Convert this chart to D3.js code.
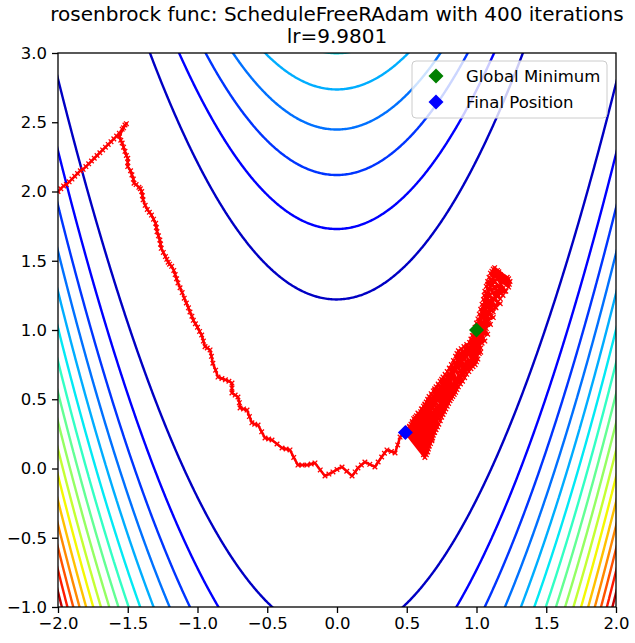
<!DOCTYPE html>
<html>
<head>
<meta charset="utf-8">
<script src="https://cdn.jsdelivr.net/npm/d3@7"></script>
<style>
  body { margin: 0; background: #fff; }
  text { font-family: "DejaVu Sans", sans-serif; fill: #000; }
</style>
</head>
<body>
<svg id="chart" width="635" height="643"></svg>
<script>
/// rosenbrock contour + optimizer path ///

const titleLines = ["rosenbrock func: ScheduleFreeRAdam with 400 iterations", "lr=9.9801"];
const levels = [150, 300, 450, 600, 750, 900, 1050, 1200, 1350, 1500, 1650, 1800, 1950, 2100, 2250, 2400];
const levelMax = 2550;
const xTicks = [-2.0, -1.5, -1.0, -0.5, 0.0, 0.5, 1.0, 1.5, 2.0];
const yTicks = [-1.0, -0.5, 0.0, 0.5, 1.0, 1.5, 2.0, 2.5, 3.0];

// path: first the climb from the start point
const climbPts = [
  [-2.00, 2.00], [-1.98, 2.02], [-1.96, 2.04], [-1.94, 2.05], [-1.92, 2.07], [-1.90, 2.09],
  [-1.88, 2.11], [-1.86, 2.13], [-1.84, 2.15], [-1.82, 2.16], [-1.80, 2.18], [-1.78, 2.20],
  [-1.76, 2.22], [-1.74, 2.24], [-1.72, 2.26], [-1.70, 2.28], [-1.68, 2.30], [-1.66, 2.32],
  [-1.64, 2.34], [-1.62, 2.36], [-1.60, 2.38], [-1.58, 2.40], [-1.56, 2.42], [-1.54, 2.45],
  [-1.52, 2.48], [-1.51, 2.49], [-1.53, 2.46]
];
// then down the valley
const valleyPts = [
  [-1.56, 2.40], [-1.55, 2.37], [-1.54, 2.35], [-1.53, 2.32], [-1.52, 2.29], [-1.51, 2.26],
  [-1.50, 2.24], [-1.50, 2.21], [-1.50, 2.18], [-1.48, 2.15], [-1.47, 2.12], [-1.46, 2.09],
  [-1.455, 2.06], [-1.44, 2.05], [-1.42, 2.03], [-1.41, 2.02], [-1.40, 2.00], [-1.395, 1.97],
  [-1.39, 1.94], [-1.375, 1.90], [-1.36, 1.87], [-1.345, 1.85], [-1.33, 1.83], [-1.315, 1.80],
  [-1.30, 1.77], [-1.295, 1.74], [-1.29, 1.71], [-1.28, 1.68], [-1.27, 1.65], [-1.265, 1.62],
  [-1.26, 1.59], [-1.245, 1.56], [-1.23, 1.53], [-1.22, 1.51], [-1.21, 1.49], [-1.20, 1.475],
  [-1.185, 1.46], [-1.17, 1.43], [-1.16, 1.40], [-1.15, 1.37], [-1.14, 1.34], [-1.125, 1.305],
  [-1.11, 1.27], [-1.095, 1.23], [-1.08, 1.195], [-1.065, 1.16], [-1.054, 1.13], [-1.04, 1.10],
  [-1.03, 1.07], [-1.015, 1.045], [-1.00, 1.02], [-0.985, 0.99], [-0.97, 0.964], [-0.958, 0.92],
  [-0.946, 0.88], [-0.93, 0.87], [-0.91, 0.856], [-0.90, 0.81], [-0.89, 0.76], [-0.87, 0.71],
  [-0.853, 0.66], [-0.825, 0.65], [-0.80, 0.64], [-0.775, 0.63], [-0.753, 0.617], [-0.753, 0.58],
  [-0.753, 0.545], [-0.73, 0.53], [-0.71, 0.516], [-0.70, 0.475], [-0.695, 0.437], [-0.67, 0.43],
  [-0.645, 0.422], [-0.628, 0.375], [-0.61, 0.33], [-0.59, 0.32], [-0.566, 0.314], [-0.54, 0.265],
  [-0.516, 0.22], [-0.49, 0.213], [-0.466, 0.206], [-0.43, 0.177], [-0.394, 0.148], [-0.365, 0.141],
  [-0.337, 0.134], [-0.31, 0.08], [-0.28, 0.025], [-0.25, 0.025], [-0.215, 0.025], [-0.185, 0.032],
  [-0.158, 0.04], [-0.12, -0.01], [-0.086, -0.054], [-0.058, -0.04], [-0.029, -0.025], [0.00, -0.007],
  [0.036, 0.011], [0.07, -0.02], [0.108, -0.054], [0.13, -0.025], [0.15, 0.004], [0.175, 0.025],
  [0.20, 0.047], [0.235, 0.03], [0.272, 0.011], [0.295, 0.047], [0.32, 0.083], [0.34, 0.11],
  [0.358, 0.134], [0.39, 0.123], [0.416, 0.112], [0.435, 0.17], [0.452, 0.227], [0.47, 0.245]
];
// then the oscillation across the valley near the minimum, up and down twice
const clusterPts = [
  [0.49, 0.26], [0.63, 0.08], [0.51, 0.29], [0.65, 0.12], [0.53, 0.32], [0.66, 0.16],
  [0.55, 0.36], [0.68, 0.20], [0.57, 0.38], [0.69, 0.24], [0.60, 0.41], [0.71, 0.28],
  [0.62, 0.45], [0.73, 0.32], [0.64, 0.48], [0.75, 0.37], [0.66, 0.52], [0.77, 0.41],
  [0.69, 0.56], [0.79, 0.45], [0.71, 0.59], [0.81, 0.49], [0.74, 0.63], [0.83, 0.52],
  [0.76, 0.66], [0.85, 0.55], [0.79, 0.70], [0.87, 0.59], [0.82, 0.75], [0.90, 0.63],
  [0.85, 0.81], [0.93, 0.68], [0.87, 0.85], [0.96, 0.72], [0.91, 0.88], [0.99, 0.75],
  [0.95, 0.91], [1.01, 0.79], [0.97, 0.96], [1.03, 0.87], [0.99, 1.02], [1.05, 0.94],
  [1.01, 1.08], [1.07, 1.01], [1.03, 1.15], [1.09, 1.07], [1.05, 1.22], [1.12, 1.13],
  [1.06, 1.28], [1.15, 1.20], [1.08, 1.35], [1.19, 1.25], [1.10, 1.41], [1.23, 1.31],
  [1.12, 1.44], [1.24, 1.35], [1.15, 1.43], [1.22, 1.38],
  [1.17, 1.40], [1.09, 1.30], [1.20, 1.28], [1.07, 1.20], [1.14, 1.16], [1.04, 1.10],
  [1.10, 1.04], [1.01, 1.00], [1.06, 0.92], [0.97, 0.92], [1.00, 0.80], [0.90, 0.84],
  [0.94, 0.72], [0.84, 0.76], [0.88, 0.64], [0.78, 0.67], [0.83, 0.56], [0.73, 0.60],
  [0.79, 0.48], [0.68, 0.53], [0.75, 0.40], [0.63, 0.46], [0.71, 0.31], [0.58, 0.40],
  [0.68, 0.21], [0.54, 0.33], [0.64, 0.12], [0.50, 0.28], [0.60, 0.15],
  [0.50, 0.275], [0.64, 0.10], [0.52, 0.305], [0.655, 0.14], [0.54, 0.34], [0.67, 0.18],
  [0.56, 0.37], [0.685, 0.22], [0.585, 0.395], [0.70, 0.26], [0.61, 0.43], [0.72, 0.30],
  [0.63, 0.465], [0.74, 0.345], [0.65, 0.50], [0.76, 0.39], [0.675, 0.54], [0.78, 0.43],
  [0.70, 0.575], [0.80, 0.47], [0.725, 0.61], [0.82, 0.505], [0.75, 0.645], [0.84, 0.535],
  [0.775, 0.68], [0.86, 0.57], [0.805, 0.725], [0.885, 0.61], [0.835, 0.78], [0.915, 0.655],
  [0.86, 0.83], [0.945, 0.70], [0.89, 0.865], [0.975, 0.735], [0.93, 0.895], [1.00, 0.77],
  [0.96, 0.935], [1.02, 0.83], [0.98, 0.99], [1.04, 0.905], [1.00, 1.05], [1.06, 0.975],
  [1.02, 1.115], [1.08, 1.04], [1.04, 1.185], [1.105, 1.10], [1.055, 1.25], [1.135, 1.165],
  [1.07, 1.315], [1.17, 1.225], [1.09, 1.38], [1.21, 1.28], [1.11, 1.425], [1.235, 1.33],
  [1.13, 1.45], [1.23, 1.37],
  [1.16, 1.42], [1.08, 1.33], [1.19, 1.30], [1.08, 1.25], [1.17, 1.19], [1.05, 1.15],
  [1.12, 1.09], [1.03, 1.05], [1.08, 0.97], [0.99, 0.96], [1.03, 0.84], [0.93, 0.88],
  [0.97, 0.76], [0.87, 0.80], [0.91, 0.68], [0.81, 0.72], [0.855, 0.60], [0.755, 0.635],
  [0.81, 0.52], [0.70, 0.565], [0.77, 0.44], [0.655, 0.49], [0.73, 0.36], [0.605, 0.43],
  [0.695, 0.26], [0.56, 0.35], [0.66, 0.165], [0.52, 0.30], [0.62, 0.10], [0.49, 0.26]
];
const globalMin = [1.0, 1.0];
const finalPos = [0.49, 0.26];
const legendLabels = ["Global Minimum", "Final Position"];
const legendColors = ["#008000", "#0000ff"];

const svg = d3.select("#chart");
const margin = {left: 58, right: 616, top: 53, bottom: 607};

const x = d3.scaleLinear().domain([-2, 2]).range([margin.left, margin.right]);
const y = d3.scaleLinear().domain([-1, 3]).range([margin.bottom, margin.top]);

// jet colormap, same segments as matplotlib
function jet(t) {
    const seg = (pts) => {
        for (let i = 1; i < pts.length; i++) {
            if (t <= pts[i][0]) {
                const a = pts[i - 1], b = pts[i];
                return a[1] + (b[1] - a[1]) * (t - a[0]) / (b[0] - a[0]);
            }
        }
        return pts[pts.length - 1][1];
    };
    const r = seg([[0, 0], [0.35, 0], [0.66, 1], [0.89, 1], [1, 0.5]]);
    const g = seg([[0, 0], [0.125, 0], [0.375, 1], [0.64, 1], [0.91, 0], [1, 0]]);
    const b = seg([[0, 0.5], [0.11, 1], [0.34, 1], [0.65, 0], [1, 0]]);
    return d3.rgb(r * 255, g * 255, b * 255).formatHex();
}

function rosen(a, b) {
    return (1 - a) * (1 - a) + 100 * (b - a * a) * (b - a * a);
}

// grid slightly bigger than the axes so the ring edges get clipped away
const step = 0.01, gx0 = -2.2, gy0 = -1.2;
const nx = 441, ny = 441;
const grid = new Array(nx * ny);
for (let j = 0; j < ny; j++) {
    for (let i = 0; i < nx; i++) {
        grid[i + j * nx] = rosen(gx0 + i * step, gy0 + j * step);
    }
}
const contours = d3.contours().size([nx, ny]).thresholds(levels)(grid);

const gridPath = d3.geoPath(d3.geoTransform({
    point: function(px, py) {
        this.stream.point(x(gx0 + (px - 0.5) * step), y(gy0 + (py - 0.5) * step));
    }
}));

svg.append("clipPath").attr("id", "plot-clip")
    .append("rect")
    .attr("x", margin.left).attr("y", margin.top)
    .attr("width", margin.right - margin.left).attr("height", margin.bottom - margin.top);

const plot = svg.append("g").attr("clip-path", "url(#plot-clip)");

plot.selectAll("path.contour")
    .data(contours)
    .join("path")
    .attr("class", "contour")
    .attr("d", gridPath)
    .attr("fill", "none")
    .attr("stroke", d => jet(d.value / levelMax))
    .attr("stroke-width", 2.4);

const allPts = climbPts.concat(valleyPts, clusterPts);
const line = d3.line().x(d => x(d[0])).y(d => y(d[1]));

plot.append("path")
    .attr("d", line(allPts))
    .attr("fill", "none")
    .attr("stroke", "#ff0000")
    .attr("stroke-width", 2.5)
    .attr("stroke-linejoin", "round");

const ms = 2.3;
plot.append("g").selectAll("path")
    .data(allPts)
    .join("path")
    .attr("d", d => {
        const cx = x(d[0]), cy = y(d[1]);
        return `M${cx - ms},${cy - ms}L${cx + ms},${cy + ms}M${cx - ms},${cy + ms}L${cx + ms},${cy - ms}`;
    })
    .attr("stroke", "#ff0000")
    .attr("stroke-width", 1.3);

function diamond(cx, cy, r) {
    return `M${cx},${cy - r}L${cx + r},${cy}L${cx},${cy + r}L${cx - r},${cy}Z`;
}

plot.append("path").attr("d", diamond(x(globalMin[0]), y(globalMin[1]), 7.5)).attr("fill", "#008000");
plot.append("path").attr("d", diamond(x(finalPos[0]), y(finalPos[1]), 7.5)).attr("fill", "#0000ff");

// axes
const xAxis = d3.axisBottom(x).tickValues(xTicks).tickFormat(d3.format(".1f")).tickSize(6).tickPadding(4);
const yAxis = d3.axisLeft(y).tickValues(yTicks).tickFormat(d3.format(".1f")).tickSize(6).tickPadding(5);

const gx = svg.append("g").attr("transform", `translate(0,${margin.bottom})`).call(xAxis);
const gy = svg.append("g").attr("transform", `translate(${margin.left},0)`).call(yAxis);
[gx, gy].forEach(g => {
    g.select(".domain").remove();
    g.selectAll("text").style("font-size", "16.5px").style("font-family", "DejaVu Sans");
    g.selectAll("line").attr("stroke", "#000").attr("stroke-width", 1.3);
});

svg.append("rect")
    .attr("x", margin.left).attr("y", margin.top)
    .attr("width", margin.right - margin.left).attr("height", margin.bottom - margin.top)
    .attr("fill", "none").attr("stroke", "#000").attr("stroke-width", 1.3);

// title
svg.append("text").attr("x", 337).attr("y", 21).attr("text-anchor", "middle")
    .style("font-size", "20px").text(titleLines[0]);
svg.append("text").attr("x", 337).attr("y", 43).attr("text-anchor", "middle")
    .style("font-size", "20px").text(titleLines[1]);

// legend
const legend = svg.append("g");
legend.append("rect")
    .attr("x", 412).attr("y", 61).attr("width", 195).attr("height", 57)
    .attr("rx", 4)
    .attr("fill", "#fff").attr("fill-opacity", 0.8)
    .attr("stroke", "#cccccc").attr("stroke-width", 1);
legendLabels.forEach((lab, i) => {
    const ly = 76 + i * 26;
    legend.append("path").attr("d", diamond(436, ly, 7.5)).attr("fill", legendColors[i]);
    legend.append("text").attr("x", 466).attr("y", ly + 6)
        .style("font-size", "16.5px").text(lab);
});
</script>
</body>
</html>
